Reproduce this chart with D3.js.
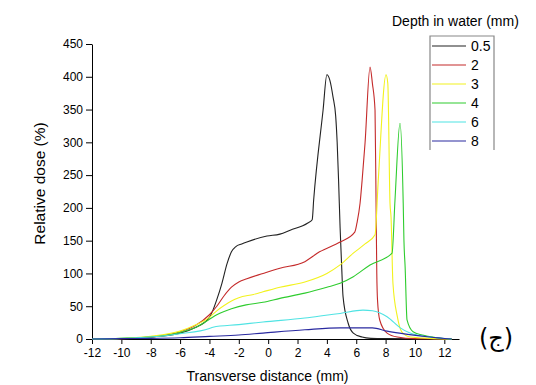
<!DOCTYPE html>
<html lang="en">
<head>
    <meta charset="utf-8">
    <title>Relative dose profiles</title>
    <style>
        body{ margin:0; background:#fff; font-family: "Liberation Sans", Arial, sans-serif;}
        .axis text{ font-size:12px; font-family:"Liberation Sans", Arial, sans-serif; fill:#000;}
        .axis path, .axis line{ stroke:#000;}
    </style>
    <script type="text/javascript" src="https://d3js.org/d3.v7.min.js"></script>
</head>
<body>
<div class="chart"></div>
<script type="text/javascript">
    // DATA ------------------------------------
    const depths = ["0.5", "2", "3", "4", "6", "8"];
    const colors = ["#222222", "#c42a2a", "#f2f21e", "#2ecc2e", "#4fe3e3", "#2a2aa0"];
    const xTicks = [-12, -10, -8, -6, -4, -2, 0, 2, 4, 6, 8, 10, 12];
    const yTicks = [0, 50, 100, 150, 200, 250, 300, 350, 400, 450];

    const x05 = [-12, -10, -8, -6, -5, -4, -3.76, -3.5, -3.15, -2.8, -2.5, -2.2, -1.8, -1.45, -0.08, 0.8, 1.5, 2.7, 3.0, 3.1, 3.74, 4.0, 4.2, 4.42, 4.6, 4.7, 4.8, 4.9, 5.0, 5.1, 5.45, 5.8, 6.4, 7, 8, 12.5];
    const y05 = [0, 0.5, 3, 9, 17, 33, 44, 60, 85, 115, 133, 141, 145, 148, 157, 160, 166, 177, 182, 212, 349, 403, 395, 369, 340, 300, 240, 170, 115, 65, 24, 9, 3, 1, 0.5, 0];
    const x2 = [-12, -10, -8, -6, -5, -4, -3.5, -3, -2.5, -2, -1.45, -0.35, 0.8, 2.5, 3.5, 4.9, 5.9, 6.05, 6.26, 6.4, 6.6, 6.94, 7.1, 7.28, 7.35, 7.4, 7.45, 7.6, 8.1, 8.8, 10, 12.5];
    const y2 = [0, 0.5, 3, 11, 20, 37, 50, 66, 79, 87, 92, 100, 108, 118, 133, 148, 163, 177, 207, 242, 299, 415, 390, 349, 207, 100, 59, 29, 9, 3, 0.5, 0];
    const x3 = [-12, -10, -8, -6, -5, -4, -3.5, -3, -2.5, -2, -1, -0.35, 0.8, 2.5, 4.0, 4.9, 5.8, 6.6, 7.28, 7.5, 8.03, 8.15, 8.3, 8.37, 8.5, 8.8, 9.1, 9.7, 11, 12.5];
    const y3 = [0, 1, 4, 12, 21, 33, 43, 51, 58, 63, 68, 72, 79, 87, 100, 113, 131, 145, 159, 242, 403, 390, 207, 186, 85, 34, 11, 3, 1, 0];
    const x4 = [-12, -10, -8, -6, -5, -4, -3.5, -3, -2.5, -1.5, -0.35, 0.8, 2.5, 4.0, 4.9, 5.8, 6.94, 8.44, 8.64, 8.98, 9.2, 9.25, 9.33, 9.46, 9.87, 10.5, 11.5, 12.5];
    const y4 = [0, 1, 3, 10, 17, 30, 37, 42, 46, 52, 56, 62, 70, 79, 85, 95, 113, 131, 212, 329, 207, 150, 110, 29, 11, 6, 2, 0];
    const x6 = [-12, -10, -8, -6, -4, -3.76, -2, -0.35, 2.5, 4.2, 4.9, 6.46, 7.1, 8.1, 9.0, 9.66, 11, 12.5];
    const y6 = [0, 1, 3, 8, 16, 18, 22, 26, 32, 37, 39, 44, 43, 34, 17, 9, 3, 0];
    const x8 = [-12, -10, -8, -6, -4, -2, -0.35, 2.5, 4.9, 7.1, 8.1, 9.5, 11, 12.5];
    const y8 = [0, 0.5, 1, 2, 4, 6, 9, 14, 17, 17, 12, 7, 3, 0];

    const xs = [x05, x2, x3, x4, x6, x8];
    const ys = [y05, y2, y3, y4, y6, y8];

    // CHART -----------------------------------
    const W = 536, H = 385;
    const margin = ({top: 44, right: 77, bottom: 46, left: 92});
    const w = W - margin.left - margin.right;
    const h = H - margin.top - margin.bottom;

    const root = d3.select(".chart").append("svg")
        .attr("width", W)
        .attr("height", H);
    const svg = root.append("g")
        .attr("transform", `translate(${margin.left},${margin.top})`);

    const xScale = d3.scaleLinear().domain([-12, 13]).range([0, w]);
    const yScale = d3.scaleLinear().domain([0, 450]).range([h, 0]);

    // plain hyphen for negatives, like the original
    svg.append("g")
        .attr("class", "axis x-axis")
        .attr("transform", `translate(0,${h})`)
        .call(d3.axisBottom(xScale).tickValues(xTicks).tickFormat(d => String(d))
            .tickSize(5).tickPadding(4).tickSizeOuter(0));

    svg.append("g")
        .attr("class", "axis y-axis")
        .call(d3.axisLeft(yScale).tickValues(yTicks).tickFormat(d => String(d))
            .tickSize(6).tickPadding(3).tickSizeOuter(0));

    const line = d3.line()
        .x(d => xScale(d[0]))
        .y(d => yScale(d[1]))
        .curve(d3.curveMonotoneX);

    depths.forEach((dep, i) => {
        const pts = xs[i].map((v, j) => [v, ys[i][j]]);
        svg.append("path")
            .datum(pts)
            .attr("fill", "none")
            .attr("stroke", colors[i])
            .attr("stroke-width", 1.1)
            .attr("d", line);
    });

    // axis titles
    svg.append("text")
        .attr("x", w / 2 - 8)
        .attr("y", h + 42)
        .attr("text-anchor", "middle")
        .attr("font-size", 14)
        .text("Transverse distance (mm)");

    svg.append("text")
        .attr("transform", `translate(-47,${h / 2 - 8}) rotate(-90)`)
        .attr("text-anchor", "middle")
        .attr("font-size", 15.5)
        .text("Relative dose (%)");

    // legend
    const lg = root.append("g");
    lg.append("text")
        .attr("x", 392)
        .attr("y", 26)
        .attr("font-size", 14)
        .text("Depth in water (mm)");
    lg.append("path")
        .attr("d", "M430,150 V36 H494 V150")
        .attr("fill", "none")
        .attr("stroke", "#888")
        .attr("stroke-width", 1.2);
    depths.forEach((dep, i) => {
        const yy = 46 + i * 19;
        lg.append("line")
            .attr("x1", 432).attr("x2", 466)
            .attr("y1", yy).attr("y2", yy)
            .attr("stroke", colors[i])
            .attr("stroke-width", 1.2);
        lg.append("text")
            .attr("x", 471)
            .attr("y", yy + 5)
            .attr("font-size", 14)
            .text(dep);
    });

    root.append("text")
        .attr("x", 496)
        .attr("y", 346)
        .attr("text-anchor", "middle")
        .attr("font-size", 24)
        .attr("font-family", "'DejaVu Sans', 'Noto Sans', sans-serif")
        .text("(ج)");
</script>
</body>
</html>
